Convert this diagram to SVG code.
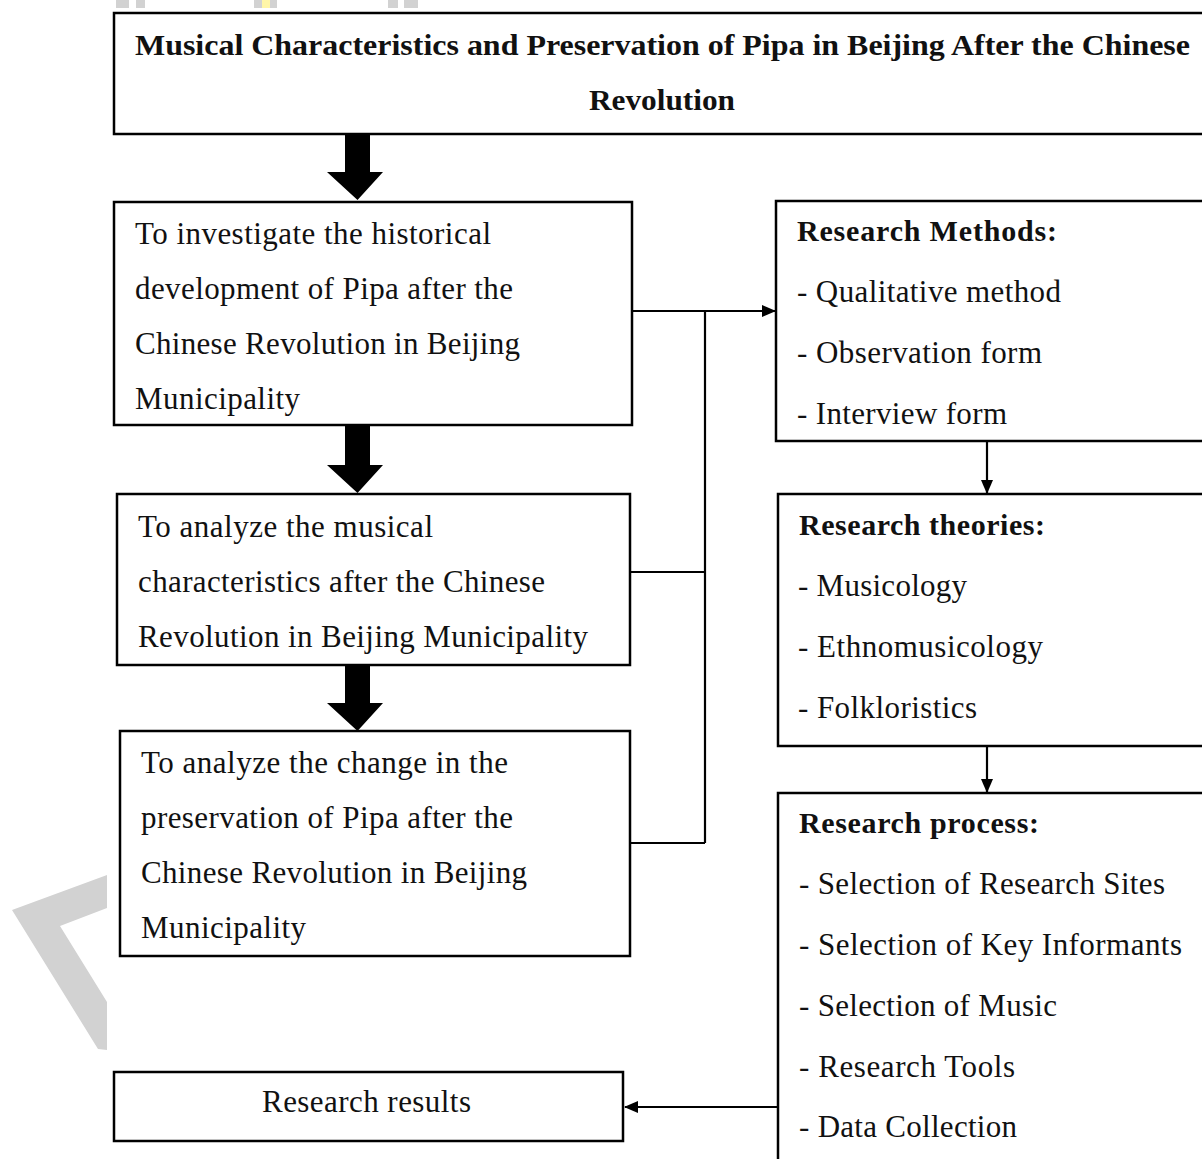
<svg xmlns="http://www.w3.org/2000/svg" width="1202" height="1159" viewBox="0 0 1202 1159">
<style>
.box{fill:#fff;stroke:#000;stroke-width:2.5}
.t{font-family:"Liberation Serif","Times New Roman",serif;font-size:31px;fill:#111}
.b{font-family:"Liberation Serif","Times New Roman",serif;font-size:30px;font-weight:bold;fill:#111}
.ln{fill:none;stroke:#000;stroke-width:2.2}
.big{fill:#000}
.wm{fill:#d2d2d2}
</style>
<defs>
<marker id="ah" markerWidth="14" markerHeight="12" refX="13" refY="6" orient="auto" markerUnits="userSpaceOnUse">
<path d="M0,0 L14,6 L0,12 Z" fill="#000"/>
</marker>
</defs>
<rect width="1202" height="1159" fill="#fff"/>
<g id="watermark">
<rect class="wm" x="116" y="0" width="13" height="8"/>
<rect class="wm" x="136" y="0" width="9" height="8"/>
<rect class="wm" x="254" y="0" width="23" height="8"/>
<rect x="262" y="0" width="8" height="8" fill="#fff6a8"/>
<rect class="wm" x="388" y="0" width="10" height="8"/>
<rect class="wm" x="404" y="0" width="14" height="8"/>
<polygon class="wm" points="12,910 107,875 107,908 60,926 107,1002 107,1050 98,1049"/>
</g>
<g id="connectors">
<polygon class="big" points="345,134 370,134 370,172 383,172 357.5,200 327,172 345,172"/>
<polygon class="big" points="345,425 370,425 370,465 383,465 357.5,493 327,465 345,465"/>
<polygon class="big" points="345,665 370,665 370,703 383,703 357.5,731 327,703 345,703"/>
<path class="ln" d="M632,311 H775" marker-end="url(#ah)"/>
<path class="ln" d="M705,311 V843"/>
<path class="ln" d="M630,572 H705"/>
<path class="ln" d="M630,843 H705"/>
<path class="ln" d="M987,441 V493" marker-end="url(#ah)"/>
<path class="ln" d="M987,746 V792" marker-end="url(#ah)"/>
<path class="ln" d="M777,1107 H625" marker-end="url(#ah)"/>
</g>
<g id="title">
<rect class="box" x="114" y="13" width="1100" height="121"/>
<text class="b" x="135" y="55" textLength="1055" lengthAdjust="spacingAndGlyphs" style="font-size:30px">Musical Characteristics  and Preservation  of Pipa in Beijing After the Chinese</text>
<text class="b" x="589" y="110" textLength="146" lengthAdjust="spacingAndGlyphs" style="font-size:30px">Revolution</text>
</g>
<g id="obj1">
<rect class="box" x="114" y="202" width="518" height="223"/>
<text class="t" x="135" y="244" textLength="356" lengthAdjust="spacing">To investigate the historical</text>
<text class="t" x="135" y="299" textLength="378" lengthAdjust="spacing">development of Pipa after the</text>
<text class="t" x="135" y="354" textLength="385" lengthAdjust="spacing">Chinese Revolution in Beijing</text>
<text class="t" x="135" y="409" textLength="165" lengthAdjust="spacing">Municipality</text>
</g>
<g id="obj2">
<rect class="box" x="117" y="494" width="513" height="171"/>
<text class="t" x="138" y="537" textLength="295" lengthAdjust="spacing">To analyze the musical</text>
<text class="t" x="138" y="592" textLength="407" lengthAdjust="spacing">characteristics after the Chinese</text>
<text class="t" x="138" y="647" textLength="450" lengthAdjust="spacing">Revolution in Beijing Municipality</text>
</g>
<g id="obj3">
<rect class="box" x="120" y="731" width="510" height="225"/>
<text class="t" x="141" y="773" textLength="367" lengthAdjust="spacing">To analyze the change in the</text>
<text class="t" x="141" y="828" textLength="372" lengthAdjust="spacing">preservation of Pipa after the</text>
<text class="t" x="141" y="883" textLength="386" lengthAdjust="spacing">Chinese Revolution in Beijing</text>
<text class="t" x="141" y="938" textLength="165" lengthAdjust="spacing">Municipality</text>
</g>
<g id="results">
<rect class="box" x="114" y="1072" width="509" height="69"/>
<text class="t" x="262" y="1112" textLength="209" lengthAdjust="spacing">Research results</text>
</g>
<g id="methods">
<rect class="box" x="776" y="201" width="440" height="240"/>
<text class="b" x="797" y="241" textLength="260" lengthAdjust="spacing">Research  Methods:</text>
<text class="t" x="797" y="302" textLength="264" lengthAdjust="spacing">- Qualitative method</text>
<text class="t" x="797" y="363" textLength="245" lengthAdjust="spacing">- Observation form</text>
<text class="t" x="797" y="424" textLength="210" lengthAdjust="spacing">- Interview form</text>
</g>
<g id="theories">
<rect class="box" x="778" y="494" width="440" height="252"/>
<text class="b" x="799" y="535" textLength="246" lengthAdjust="spacing">Research  theories:</text>
<text class="t" x="798" y="596" textLength="169" lengthAdjust="spacing">- Musicology</text>
<text class="t" x="798" y="657" textLength="245" lengthAdjust="spacing">- Ethnomusicology</text>
<text class="t" x="798" y="718" textLength="179" lengthAdjust="spacing">- Folkloristics</text>
</g>
<g id="process">
<rect class="box" x="778" y="793" width="440" height="380"/>
<text class="b" x="799" y="833" textLength="240" lengthAdjust="spacing">Research  process:</text>
<text class="t" x="799" y="894" textLength="366" lengthAdjust="spacing">- Selection of Research Sites</text>
<text class="t" x="799" y="955" textLength="383" lengthAdjust="spacing">- Selection of Key Informants</text>
<text class="t" x="799" y="1016" textLength="258" lengthAdjust="spacing">- Selection of Music</text>
<text class="t" x="799" y="1077" textLength="216" lengthAdjust="spacing">- Research Tools</text>
<text class="t" x="799" y="1137" textLength="218" lengthAdjust="spacing">- Data Collection</text>
</g>
</svg>
